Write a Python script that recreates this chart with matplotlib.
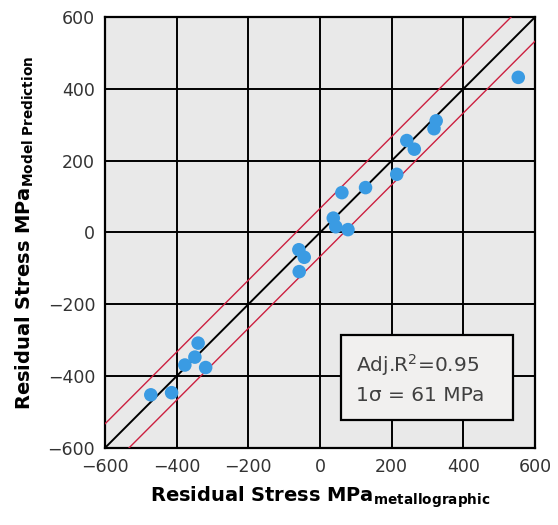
import matplotlib

matplotlib.use("Agg", force=True)

import matplotlib.pyplot as plt
import numpy as np

measured = [553, 324, 318, 242, 263, 214, 61, 127, 37, 44, 78,
            -59, -44, -58, -340, -349, -377, -319, -472, -414]
predicted = [432, 311, 289, 256, 232, 162, 111, 125, 40, 16, 8,
             -48, -69, -109, -308, -347, -369, -376, -452, -446]

band = 67  # half width of the red scatter band (MPa)
limits = [-600, 600]
ticks = [-600, -400, -200, 0, 200, 400, 600]

fig = plt.figure(figsize=(5.58, 5.25), dpi=100)
ax = fig.add_axes([0.188, 0.1467, 0.771, 0.8209])
ax.set_facecolor("#e9e9e9")

ax.set_xlim(limits)
ax.set_ylim(limits)
ax.set_xticks(ticks)
ax.set_yticks(ticks)
ax.grid(True, color="black", linewidth=1.4)
ax.set_axisbelow(True)
for sp in ax.spines.values():
    sp.set_linewidth(1.6)
    sp.set_color("black")
ax.tick_params(length=0, labelsize=12.5, labelcolor="#333333", pad=7)

line = np.array(limits)
ax.plot(line, line, color="black", linewidth=1.4, zorder=3)
ax.plot(line, line + band, color="#cc2040", linewidth=1.0, zorder=3)
ax.plot(line, line - band, color="#cc2040", linewidth=1.0, zorder=3)

ax.scatter(measured, predicted, s=95, color="#3a9be3", edgecolors="none",
           zorder=4, clip_on=False)

ax.text(0.584, 0.222, "Adj.R$^2$=0.95\n1σ = 61 MPa", transform=ax.transAxes,
        fontsize=14.5, color="#404040", va="top", ha="left", linespacing=1.5,
        zorder=6)
ax.add_patch(plt.Rectangle((0.548, 0.065), 0.40, 0.197, transform=ax.transAxes,
                           facecolor="#f1f0ef", edgecolor="black", linewidth=1.6,
                           zorder=5))

ax.set_xlabel(r"$\mathbf{Residual\ Stress\ MPa}_{\mathbf{metallographic}}$",
              fontsize=14, labelpad=6)
ax.set_ylabel(r"$\mathbf{Residual\ Stress\ MPa}_{\mathbf{Model\ Prediction}}$",
              fontsize=14, labelpad=8)

fig.savefig("out.png", dpi=100)
plt.close(fig)
